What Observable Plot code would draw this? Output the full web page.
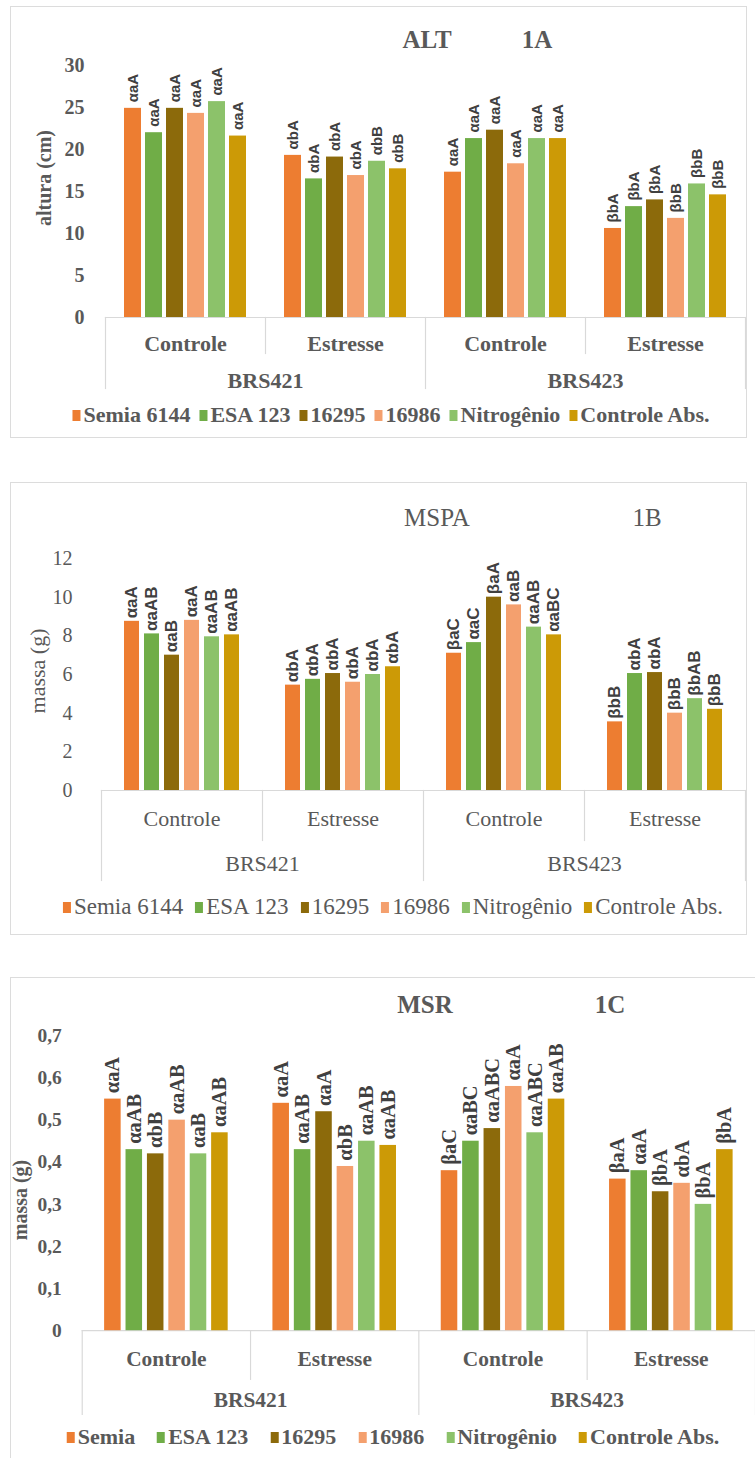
<!DOCTYPE html>
<html><head><meta charset="utf-8">
<script src="https://cdn.jsdelivr.net/npm/d3@7"></script>
<script src="https://cdn.jsdelivr.net/npm/@observablehq/plot@0.6"></script>
<style>
html,body{margin:0;padding:0;background:#fff;}
body{width:755px;height:1458px;position:relative;overflow:hidden;font-family:"Liberation Serif","Times New Roman",serif;color:#595959;}
.box{position:absolute;border:1.5px solid #dcdcdc;box-sizing:border-box;}
.abs{position:absolute;white-space:nowrap;}
.ctr{transform:translate(-50%,-50%);}
.title{font-size:25px;}
.ytitle{transform:translate(-50%,-50%) rotate(-90deg);}
.legend{position:absolute;display:flex;justify-content:center;align-items:center;white-space:nowrap;transform:translate(-50%,-50%);}
.legend .it{display:flex;align-items:center;}
.legend .sw{display:inline-block;width:8px;height:11px;margin-right:3px;}
</style>
</head><body>
<script>
// ---------- data ----------
const cultivars = ["BRS421", "BRS423"];
const treatments = ["Controle", "Estresse"];
const seriesNames = ["Semia 6144", "ESA 123", "16295", "16986", "Nitrogênio", "Controle Abs."];
const seriesNamesC = ["Semia", "ESA 123", "16295", "16986", "Nitrogênio", "Controle Abs."];
const seriesColors = ["#ED7D31", "#70AD47", "#8C6A0B", "#F4A06E", "#8CC26A", "#CC9A06"];

// group order: BRS421 Controle, BRS421 Estresse, BRS423 Controle, BRS423 Estresse
const altValues = [
  [24.9, 22.0, 24.9, 24.3, 25.7, 21.6],
  [19.3, 16.5, 19.1, 16.9, 18.6, 17.7],
  [17.3, 21.3, 22.3, 18.3, 21.3, 21.3],
  [10.6, 13.2, 14.0, 11.8, 15.9, 14.6]
];
const altLabels = [
  ["αaA", "αaA", "αaA", "αaA", "αaA", "αaA"],
  ["αbA", "αbA", "αbA", "αbA", "αbB", "αbB"],
  ["αaA", "αaA", "αaA", "αaA", "αaA", "αaA"],
  ["βbA", "βbA", "βbA", "βbB", "βbB", "βbB"]
];
const altTicks = [0, 5, 10, 15, 20, 25, 30];

const mspaValues = [
  [8.75, 8.1, 7.0, 8.8, 7.95, 8.05],
  [5.45, 5.75, 6.05, 5.6, 6.0, 6.4],
  [7.1, 7.65, 10.0, 9.6, 8.45, 8.05],
  [3.55, 6.05, 6.1, 4.0, 4.75, 4.2]
];
const mspaLabels = [
  ["αaA", "αaAB", "αaB", "αaA", "αaAB", "αaAB"],
  ["αbA", "αbA", "αbA", "αbA", "αbA", "αbA"],
  ["βaC", "αaC", "βaA", "αaB", "αaAB", "αaBC"],
  ["βbB", "αbA", "αbA", "βbB", "βbAB", "βbB"]
];
const mspaTicks = [0, 2, 4, 6, 8, 10, 12];

const msrValues = [
  [0.55, 0.43, 0.42, 0.50, 0.42, 0.47],
  [0.54, 0.43, 0.52, 0.39, 0.45, 0.44],
  [0.38, 0.45, 0.48, 0.58, 0.47, 0.55],
  [0.36, 0.38, 0.33, 0.35, 0.30, 0.43]
];
const msrLabels = [
  ["αaA", "αaAB", "αbB", "αaAB", "αaB", "αaAB"],
  ["αaA", "αaAB", "αaA", "αbB", "αaAB", "αaAB"],
  ["βaC", "αaBC", "αaABC", "αaA", "αaABC", "αaAB"],
  ["βaA", "αaA", "βbA", "αbA", "βbA", "βbA"]
];
const msrTicks = [0, 0.1, 0.2, 0.3, 0.4, 0.5, 0.6, 0.7];

// ---------- helpers ----------
const combos = cultivars.flatMap(c => treatments.map(t => ({group: c + "|" + t, cult: c, treat: t})));
const groupKeys = combos.map(d => d.group);

function buildRows(values, labels) {
  const out = [];
  combos.forEach((g, gi) => seriesNames.forEach((s, si) => out.push({
    group: g.group, cult: g.cult, treat: g.treat, series: s, value: values[gi][si], label: labels[gi][si]
  })));
  return out;
}

function el(cls, css, html) {
  const d = document.createElement("div");
  d.className = cls;
  Object.assign(d.style, css);
  if (html != null) d.innerHTML = html;
  document.body.appendChild(d);
  return d;
}

function panel(cfg) {
  const data = buildRows(cfg.values, cfg.labels);
  const plotH = cfg.height - cfg.marginTop - cfg.marginBottom;
  const sepStroke = "#d9d9d9";
  const weight = cfg.bold ? "bold" : "normal";
  const marks = [
    Plot.frame({anchor: "bottom", stroke: sepStroke, strokeWidth: 1.2}),
    ...combos.map(d => Plot.frame({
      anchor: "left", fx: [d.group], stroke: sepStroke, strokeWidth: 1.2,
      insetTop: plotH, insetBottom: -(d.treat === "Controle" ? cfg.longSep : cfg.shortSep)
    })),
    Plot.frame({anchor: "right", fx: [groupKeys[groupKeys.length - 1]], stroke: sepStroke, strokeWidth: 1.2,
      insetTop: plotH, insetBottom: -cfg.longSep}),
    Plot.axisY(cfg.ticks, {tickSize: 0, tickPadding: cfg.tickPad, tickFormat: cfg.tickFormat,
      label: null, fontSize: cfg.tickFont, fontWeight: weight, fill: "#595959"}),
    Plot.barY(data, {fx: "group", x: "series", y: "value", fill: "series"}),
    Plot.text(data, {fx: "group", x: "series", y: "value", text: "label", rotate: -90,
      textAnchor: "start", lineAnchor: "middle", dy: -cfg.labelGap,
      fontSize: cfg.labelFont, fontFamily: cfg.labelFamily, fontWeight: "bold", fill: "#404040"}),
    Plot.text(combos, {fx: "group", text: "treat", frameAnchor: "bottom", lineAnchor: "middle",
      dy: cfg.catDy, fontSize: cfg.catFont, fontWeight: weight, fill: "#595959"}),
    Plot.text(combos.filter(d => d.treat === treatments[0]), {fx: "group", text: "cult",
      frameAnchor: "bottom-right", textAnchor: "middle", lineAnchor: "middle",
      dy: cfg.grpDy, fontSize: cfg.catFont, fontWeight: weight, fill: "#595959"})
  ];
  const svg = Plot.plot({
    width: cfg.width, height: cfg.height,
    marginLeft: cfg.marginLeft, marginRight: cfg.marginRight,
    marginTop: cfg.marginTop, marginBottom: cfg.marginBottom,
    style: {fontFamily: "Liberation Serif, Times New Roman, serif", color: "#595959", background: "transparent", overflow: "visible"},
    fx: {domain: groupKeys, padding: 0, axis: null},
    x: {domain: seriesNames, paddingInner: cfg.pi, paddingOuter: cfg.po, axis: null},
    y: {domain: cfg.yDomain, axis: null},
    color: {domain: seriesNames, range: seriesColors},
    marks
  });

  el("box", {left: cfg.box[0] + "px", top: cfg.box[1] + "px", width: (cfg.box[2] - cfg.box[0]) + "px", height: (cfg.box[3] - cfg.box[1]) + "px"});
  const holder = el("abs", {left: cfg.left + "px", top: cfg.top + "px"});
  holder.appendChild(svg);
  cfg.titles.forEach(t => el("abs ctr title", {left: t.x + "px", top: cfg.titleY + "px", fontWeight: weight}, t.text));
  el("abs ytitle", {left: cfg.yTitle.x + "px", top: cfg.yTitle.y + "px", fontSize: cfg.yTitle.size + "px", fontWeight: weight}, cfg.yTitle.text);
  const lg = el("legend", {left: cfg.legend.x + "px", top: cfg.legend.y + "px", fontSize: cfg.legend.size + "px", fontWeight: weight, gap: cfg.legend.gap + "px"});
  cfg.legend.names.forEach((n, i) => {
    const it = document.createElement("span");
    it.className = "it";
    it.innerHTML = `<span class="sw" style="background:${seriesColors[i]}"></span>${n}`;
    lg.appendChild(it);
  });
}

panel({
  values: altValues, labels: altLabels, ticks: altTicks, yDomain: [0, 30], tickFormat: d => String(d),
  bold: true, left: 0, top: 45, width: 745, height: 355,
  marginLeft: 104, marginRight: 0, marginTop: 20, marginBottom: 83,
  pi: 0.2, po: 0.78, tickPad: 21, tickFont: 20,
  labelFont: 15, labelFamily: "Liberation Sans, Arial, sans-serif", labelGap: 6,
  catDy: 26, grpDy: 63, catFont: 22, shortSep: 36, longSep: 71,
  box: [10, 6, 747, 438],
  titleY: 40, titles: [{x: 427, text: "ALT"}, {x: 537, text: "1A"}],
  yTitle: {x: 44, y: 178, size: 20, text: "altura (cm)"},
  legend: {x: 391, y: 415, size: 22, gap: 9, names: seriesNames}
});

panel({
  values: mspaValues, labels: mspaLabels, ticks: mspaTicks, yDomain: [0, 12], tickFormat: d => String(d),
  bold: false, left: 0, top: 530, width: 746, height: 360,
  marginLeft: 101, marginRight: 1, marginTop: 28, marginBottom: 100,
  pi: 0.255, po: 1.0, tickPad: 29, tickFont: 20,
  labelFont: 17, labelFamily: "Liberation Sans, Arial, sans-serif", labelGap: 3,
  catDy: 28, grpDy: 73, catFont: 22, shortSep: 50, longSep: 90,
  box: [10, 482, 747, 935],
  titleY: 518, titles: [{x: 437, text: "MSPA"}, {x: 647, text: "1B"}],
  yTitle: {x: 38, y: 671, size: 22, text: "massa (g)"},
  legend: {x: 393, y: 907, size: 23, gap: 12, names: seriesNames}
});

panel({
  values: msrValues, labels: msrLabels, ticks: msrTicks, yDomain: [0, 0.7],
  tickFormat: d => d === 0 ? "0" : d.toFixed(1).replace(".", ","),
  bold: true, left: 0, top: 1015, width: 776, height: 425,
  marginLeft: 84, marginRight: 0, marginTop: 21, marginBottom: 101,
  pi: 0.21, po: 0.9, tickPad: 21, tickFont: 20,
  labelFont: 21, labelFamily: "Liberation Serif, Times New Roman, serif", labelGap: 6,
  catDy: 29, grpDy: 71, catFont: 22, shortSep: 50, longSep: 86,
  box: [10, 977, 800, 1470],
  titleY: 1005, titles: [{x: 425, text: "MSR"}, {x: 610, text: "1C"}],
  yTitle: {x: 20, y: 1200, size: 20, text: "massa (g)"},
  legend: {x: 393, y: 1437, size: 22, gap: 22, names: seriesNamesC}
});
</script>
</body></html>
